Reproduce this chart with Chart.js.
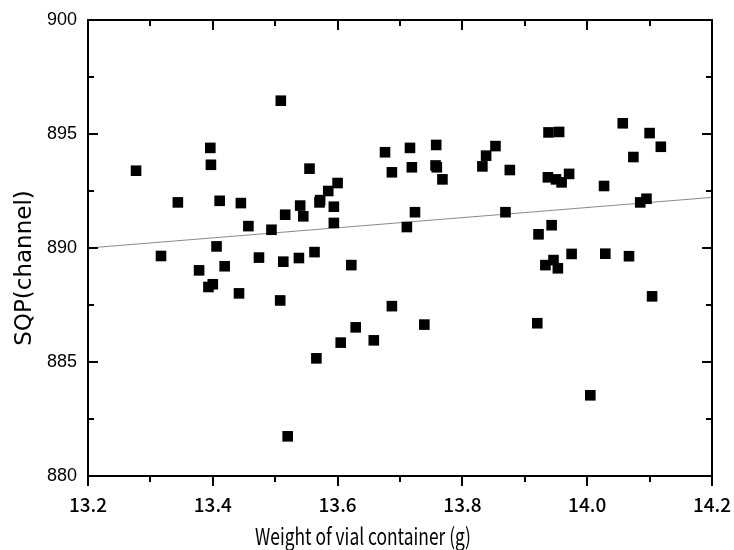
<!DOCTYPE html>
<html>
<head>
<meta charset="utf-8">
<script src="https://cdn.jsdelivr.net/npm/chart.js@4/dist/chart.umd.min.js"></script>
<style>
html,body{margin:0;padding:0;background:#fff;}
#wrap{width:734px;height:550px;position:relative;}
</style>
</head>
<body>
<div id="wrap"><canvas id="c" width="734" height="550"></canvas></div>
<script>
// Weight of vial container (g)
const weightX = [
13.277,13.317,13.344,13.378,13.393,13.396,13.397,13.400,13.406,13.411,
13.419,13.442,13.445,13.457,13.474,13.494,13.508,13.509,13.513,13.516,
13.520,13.538,13.540,13.545,13.555,13.563,13.566,13.571,13.572,13.585,
13.594,13.594,13.600,13.605,13.622,13.629,13.658,13.676,13.687,13.687,
13.711,13.716,13.719,13.724,13.739,13.757,13.758,13.759,13.768,13.832,
13.838,13.853,13.869,13.876,13.920,13.922,13.933,13.937,13.938,13.943,
13.946,13.950,13.953,13.955,13.959,13.971,13.975,14.005,14.027,14.029,
14.057,14.067,14.074,14.085,14.095,14.100,14.104,14.118
];
// SQP (channel)
const sqpY = [
893.39,889.65,892.00,889.02,888.29,894.39,893.65,888.41,890.07,892.07,
889.20,888.01,891.97,890.96,889.58,890.80,887.70,896.46,889.40,891.46,
881.74,889.56,891.86,891.39,893.48,889.82,885.16,892.00,892.10,892.50,
891.81,891.10,892.85,885.85,889.25,886.52,885.95,894.20,893.32,887.45,
890.92,894.39,893.54,891.57,886.64,893.62,894.52,893.54,893.01,893.58,
894.05,894.47,891.57,893.42,886.70,890.60,889.25,893.10,895.07,891.00,
889.47,893.01,889.11,895.09,892.88,893.25,889.74,883.54,892.72,889.75,
895.47,889.64,893.99,892.00,892.16,895.04,887.88,894.44
];
// Linear fit line end points
const fitX = [13.2, 14.2];
const fitY = [890.0, 892.22];
// Axis settings
const xTickMin = 13.2, xTickMax = 14.2, xTickStep = 0.2;
const yTickMin = 880, yTickMax = 900, yTickStep = 5;
const xTitle = 'Weight of vial container (g)';
const yTitle = 'SQP(channel)';

const points = weightX.map((x, i) => ({x: x, y: sqpY[i]}));
const fitPts = fitX.map((x, i) => ({x: x, y: fitY[i]}));

const framePlugin = {
  id: 'frame',
  afterDatasetsDraw(chart) {
    const ctx = chart.ctx, a = chart.chartArea;
    const xs = chart.scales.x, ys = chart.scales.y;
    ctx.save();
    ctx.strokeStyle = '#000';
    ctx.lineWidth = 2;
    ctx.strokeRect(a.left, a.top, a.right - a.left, a.bottom - a.top);
    const major = 10, minor = 6;
    ctx.beginPath();
    const xt = xs.ticks.map(t => t.value);
    for (let i = 0; i < xt.length; i++) {
      const p = Math.round(xs.getPixelForValue(xt[i]));
      ctx.moveTo(p, a.bottom); ctx.lineTo(p, a.bottom + major);
      ctx.moveTo(p, a.top); ctx.lineTo(p, a.top + major);
      if (i < xt.length - 1) {
        const q = Math.round(xs.getPixelForValue((xt[i] + xt[i+1]) / 2));
        ctx.moveTo(q, a.bottom); ctx.lineTo(q, a.bottom + minor);
        ctx.moveTo(q, a.top); ctx.lineTo(q, a.top + minor);
      }
    }
    const yt = ys.ticks.map(t => t.value);
    for (let i = 0; i < yt.length; i++) {
      const p = Math.round(ys.getPixelForValue(yt[i]));
      ctx.moveTo(a.left, p); ctx.lineTo(a.left + major, p);
      ctx.moveTo(a.right, p); ctx.lineTo(a.right - major, p);
      if (i < yt.length - 1) {
        const q = Math.round(ys.getPixelForValue((yt[i] + yt[i+1]) / 2));
        ctx.moveTo(a.left, q); ctx.lineTo(a.left + minor, q);
        ctx.moveTo(a.right, q); ctx.lineTo(a.right - minor, q);
      }
    }
    ctx.stroke();
    ctx.fillStyle = '#000';
    ctx.textAlign = 'center';
    ctx.textBaseline = 'middle';
    // x axis title (condensed)
    ctx.save();
    ctx.font = '23px "Noto Sans CJK JP", "Liberation Sans", sans-serif';
    const w = ctx.measureText(xTitle).width;
    ctx.translate(363, 536);
    ctx.scale(Math.min(1, 216 / w), 1);
    ctx.fillText(xTitle, 0, 0);
    ctx.restore();
    // y axis title
    ctx.translate(25, 268);
    ctx.rotate(-Math.PI / 2);
    ctx.font = '23px "DejaVu Sans", sans-serif';
    ctx.fillText(yTitle, 0, 0);
    ctx.restore();
  }
};

new Chart(document.getElementById('c'), {
  type: 'scatter',
  data: {
    datasets: [
      {
        label: 'data',
        data: points,
        pointStyle: 'rect',
        pointRadius: 7.5,
        pointHoverRadius: 7.5,
        backgroundColor: '#000',
        borderColor: '#000',
        borderWidth: 0,
        order: 0
      },
      {
        type: 'line',
        label: 'fit',
        data: fitPts,
        borderColor: '#8a8a8a',
        borderWidth: 1,
        pointRadius: 0,
        fill: false,
        order: 1
      }
    ]
  },
  options: {
    responsive: false,
    animation: false,
    devicePixelRatio: 1,
    layout: {padding: {left: 0, right: 22, top: 20, bottom: 0}},
    plugins: {legend: {display: false}, tooltip: {enabled: false}},
    scales: {
      x: {
        type: 'linear',
        min: xTickMin, max: xTickMax,
        grid: {display: false, drawTicks: false},
        border: {display: false},
        afterFit(s) { s.height = 74; s.paddingRight = 0; s.paddingLeft = 0; },
        ticks: {
          stepSize: xTickStep,
          padding: 17,
          color: '#000',
          font: {family: '"Noto Sans CJK JP", "Liberation Sans", sans-serif', size: 19, weight: '500'},
          callback: v => v.toFixed(1)
        },
        title: {display: false}
      },
      y: {
        type: 'linear',
        min: yTickMin, max: yTickMax,
        grid: {display: false, drawTicks: false},
        border: {display: false},
        afterFit(s) { s.width = 88; s.paddingTop = 0; s.paddingBottom = 0; },
        ticks: {
          stepSize: yTickStep,
          padding: 11,
          color: '#000',
          font: {family: '"Liberation Sans", Arial, sans-serif', size: 18}
        },
        title: {display: false}
      }
    }
  },
  plugins: [framePlugin]
});
</script>
</body>
</html>
